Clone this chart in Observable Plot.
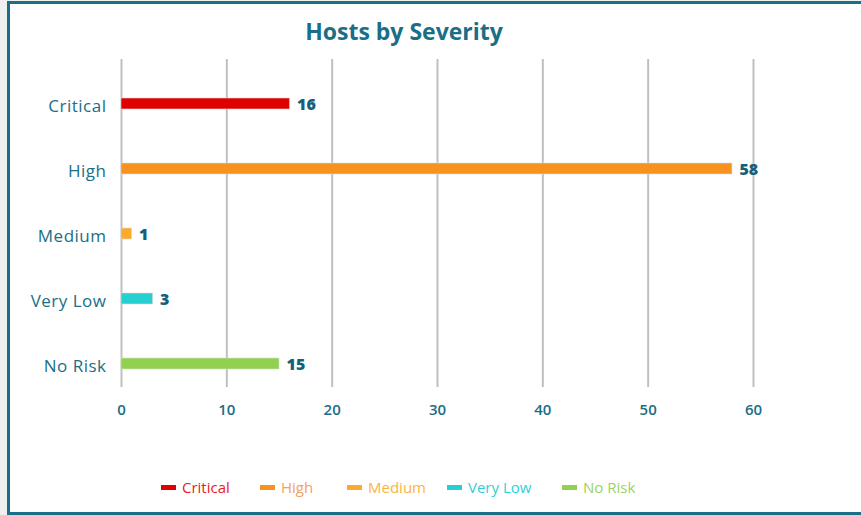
<!DOCTYPE html>
<html>
<head>
<meta charset="utf-8">
<script src="https://cdn.jsdelivr.net/npm/d3@7"></script>
<script src="https://cdn.jsdelivr.net/npm/@observablehq/plot@0.6"></script>
<style>
  html, body { margin: 0; padding: 0; background: #f0f0f0; }
  #wrap { position: relative; width: 861px; height: 515px; overflow: hidden; background: #f0f0f0; font-family: "Open Sans", Lato, sans-serif; }
  #frame { position: absolute; left: 7px; top: 1px; width: 870px; height: 508px; background: #fff; border: 3px solid #1a6e85; border-right: none; }
  #title { position: absolute; left: 0; width: 808px; top: 15px; text-align: center; font-size: 23px; font-weight: 700; color: #1a6e85; }
  #chart { position: absolute; left: 0; top: 0; }
  #legend { position: absolute; top: 477px; left: 0; width: 861px; height: 20px; }
  .lg { position: absolute; display: flex; align-items: center; font-size: 15px; white-space: nowrap; }
  .sw { display: inline-block; width: 15px; height: 5px; margin-right: 6px; }
  g[aria-label="y-axis tick label"] text { letter-spacing: 0.5px; }
</style>
</head>
<body>
<div id="wrap">
  <div id="frame"></div>
  <div id="title">Hosts by Severity</div>
  <div id="chart"></div>
  <div id="legend"></div>
</div>
<script>
const categories = ["Critical", "High", "Medium", "Very Low", "No Risk"];
const values = [16, 58, 1, 3, 15];
const colors = ["#e00000", "#f7921e", "#fbab2b", "#27d0d0", "#92d050"];
const legendTextColors = ["#e81c1c", "#f4a064", "#fdb33c", "#30cfd6", "#9ad35e"];
const xTicks = [0, 10, 20, 30, 40, 50, 60];
const legendX = [161, 260, 347, 447, 562];

const data = categories.map((c, i) => ({category: c, value: values[i], color: colors[i]}));
const teal = "#1a6e85";

const plot = Plot.plot({
  width: 861,
  height: 515,
  marginLeft: 121,
  marginRight: 108,
  marginTop: 70,
  marginBottom: 117,
  style: {background: "transparent", fontFamily: "'Open Sans', Lato, sans-serif", overflow: "visible"},
  x: {domain: [0, 60]},
  y: {domain: categories, padding: 0.83, paddingOuter: 0.415, align: 0.5},
  marks: [
    Plot.ruleX(xTicks, {stroke: "#c0c0c0", strokeWidth: 2, insetTop: -11, insetBottom: 11}),
    Plot.barX(data, {y: "category", x: "value", fill: "color", stroke: "#d9d9d9", strokeWidth: 0.6}),
    Plot.text(data, {y: "category", x: "value", text: d => String(d.value), dx: 7, dy: 1, textAnchor: "start", fontSize: 16, fontWeight: 800, fill: "#17607a"}),
    Plot.axisY({tickSize: 0, tickPadding: 15, dy: 3, fontSize: 17, fill: teal, label: null}),
    Plot.axisX({ticks: xTicks, tickSize: 0, tickPadding: 6, fontSize: 15, fontWeight: 600, fill: teal, label: null})
  ]
});
document.getElementById("chart").appendChild(plot);

const lg = document.getElementById("legend");
categories.forEach((c, i) => {
  const d = document.createElement("div");
  d.className = "lg";
  d.style.left = legendX[i] + "px";
  d.style.color = legendTextColors[i];
  d.innerHTML = `<span class="sw" style="background:${colors[i]}"></span>${c}`;
  lg.appendChild(d);
});
</script>
</body>
</html>
